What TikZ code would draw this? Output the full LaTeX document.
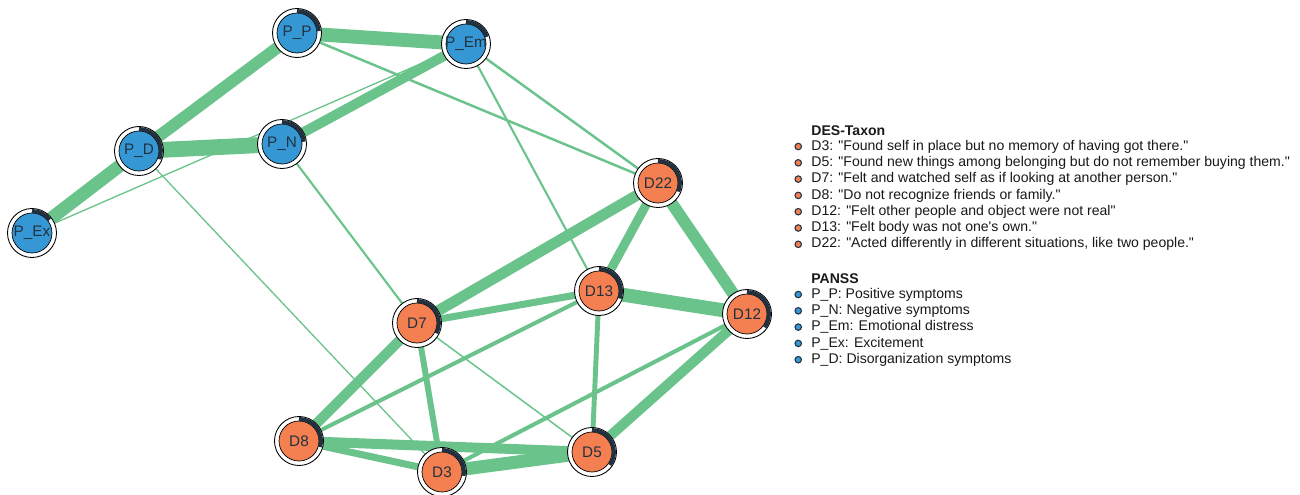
\documentclass[tikz,border=0pt]{standalone}
\usepackage{fontspec}
\setmainfont{Liberation Sans}
\usepackage{tikz}
\usetikzlibrary{positioning}

\definecolor{desorange}{HTML}{F47F51}
\definecolor{panssblue}{HTML}{3598D5}
\definecolor{linkgreen}{HTML}{69C38B}
\definecolor{pieslate}{HTML}{22313F}

\pgfdeclarelayer{back}
\pgfsetlayers{back,main}

\tikzstyle{item} = [circle, draw=black, line width=0.5pt, fill=white, minimum size=0.98cm, inner sep=0pt, font=\fontsize{8.7}{10}\selectfont, text=pieslate]
\tikzstyle{des} = [item, path picture={
  \fill[desorange, draw=black, line width=0.4pt] (path picture bounding box.center) circle (0.40cm);}]
\tikzstyle{panss} = [item, path picture={
  \fill[panssblue, draw=black, line width=0.4pt] (path picture bounding box.center) circle (0.40cm);}]
\tikzstyle{pie} = [draw=pieslate, line width=2.2pt]
\tikzstyle{link} = [draw=linkgreen, line cap=butt]
\tikzstyle{keytext} = [anchor=west, inner sep=0pt, font=\fontsize{8}{9}\selectfont, text=black!90]
\tikzstyle{keyhead} = [keytext, font=\fontsize{8}{9}\selectfont\bfseries]
\tikzstyle{keydot} = [circle, draw=pieslate, line width=0.6pt, minimum size=0.13cm, inner sep=0pt]

\newcommand{\dq}{\textquotedbl}

\begin{document}
\begin{tikzpicture}[x=0.02cm, y=-0.02cm]
\useasboundingbox (0,0) rectangle (1300,494);

% PANSS items
\node (pp) [panss] at (297,33) {P\_P};
\node (pem) [panss] at (466,44) {P\_Em};
\node (pd) [panss] at (139,151) {P\_D};
\node (pn) [panss] at (282,144) {P\_N};
\node (pex) [panss] at (32,233) {P\_Ex};

% DES-Taxon items
\node (d22) [des] at (658,183) {D22};
\node (d13) [des] at (599,291) {D13};
\node (d12) [des] at (747,314) {D12};
\node (d7) [des] at (417,323) {D7};
\node (d8) [des] at (299,441) {D8};
\node (d3) [des] at (442,472) {D3};
\node (d5) [des] at (592,452) {D5};

% pie rings
\foreach \n/\a in {pp/85, pem/71, pd/112, pn/84, pex/53, d22/113, d13/110, d12/127, d7/118, d8/106, d3/100, d5/126}
  \draw [pie] ([yshift=0.44cm]\n.center) arc[start angle=90, delta angle=-\a, radius=0.44cm];

\begin{pgfonlayer}{back}
\draw [link, line width=9pt] (pd.center) -- (pn.center);
\draw [link, line width=7.9pt] (pp.center) -- (pem.center);
\draw [link, line width=7.4pt] (pd.center) -- (pex.center);
\draw [link, line width=6.8pt] (pp.center) -- (pd.center);
\draw [link, line width=5.7pt] (pn.center) -- (pem.center);
\draw [link, line width=1.4pt] (pp.center) -- (d22.center);
\draw [link, line width=1.4pt] (pem.center) -- (d22.center);
\draw [link, line width=1.2pt] (pem.center) -- (d13.center);
\draw [link, line width=1.2pt] (pn.center) -- (d7.center);
\draw [link, line width=0.75pt] (pex.center) -- (pem.center);
\draw [link, line width=0.75pt] (pd.center) -- (d3.center);

\draw [link, line width=7.9pt] (d13.center) -- (d12.center);
\draw [link, line width=7.4pt] (d3.center) -- (d5.center);
\draw [link, line width=6.8pt] (d22.center) -- (d12.center);
\draw [link, line width=6.2pt] (d22.center) -- (d7.center);
\draw [link, line width=5.7pt] (d8.center) -- (d5.center);
\draw [link, line width=5.7pt] (d7.center) -- (d8.center);
\draw [link, line width=5.7pt] (d12.center) -- (d5.center);
\draw [link, line width=5.1pt] (d22.center) -- (d13.center);
\draw [link, line width=4pt] (d13.center) -- (d7.center);
\draw [link, line width=4pt] (d8.center) -- (d3.center);
\draw [link, line width=3.4pt] (d7.center) -- (d3.center);
\draw [link, line width=2.8pt] (d13.center) -- (d5.center);
\draw [link, line width=2.3pt] (d13.center) -- (d8.center);
\draw [link, line width=2.3pt] (d12.center) -- (d3.center);
\draw [link, line width=0.85pt] (d7.center) -- (d5.center);
\end{pgfonlayer}

% legend
\node (desHead) [keyhead] at (811,131) {DES-Taxon};
\node (keyD3) [keytext] at (811,146.5) {D3: \dq Found self in place but no memory of having got there.\dq};
\node (keyD5) [keytext] at (811,162.8) {D5: \dq Found new things among belonging but do not remember buying them.\dq};
\node (keyD7) [keytext] at (811,179.1) {D7: \dq Felt and watched self as if looking at another person.\dq};
\node (keyD8) [keytext] at (811,195.4) {D8: \dq Do not recognize friends or family.\dq};
\node (keyD12) [keytext] at (811,211.7) {D12: \dq Felt other people and object were not real\dq};
\node (keyD13) [keytext] at (811,228) {D13: \dq Felt body was not one\textquotesingle s own.\dq};
\node (keyD22) [keytext] at (811,244.3) {D22: \dq Acted differently in different situations, like two people.\dq};

\node (panssHead) [keyhead] at (811,278.5) {PANSS};
\node (keyPP) [keytext] at (811,294.5) {P\_P: Positive symptoms};
\node (keyPN) [keytext] at (811,310.8) {P\_N: Negative symptoms};
\node (keyPEm) [keytext] at (811,327.1) {P\_Em: Emotional distress};
\node (keyPEx) [keytext] at (811,343.4) {P\_Ex: Excitement};
\node (keyPD) [keytext] at (811,359.7) {P\_D: Disorganization symptoms};

\node (dotD3) [keydot, fill=desorange, left=0.18cm of keyD3] {};
\node (dotD5) [keydot, fill=desorange, left=0.18cm of keyD5] {};
\node (dotD7) [keydot, fill=desorange, left=0.18cm of keyD7] {};
\node (dotD8) [keydot, fill=desorange, left=0.18cm of keyD8] {};
\node (dotD12) [keydot, fill=desorange, left=0.18cm of keyD12] {};
\node (dotD13) [keydot, fill=desorange, left=0.18cm of keyD13] {};
\node (dotD22) [keydot, fill=desorange, left=0.18cm of keyD22] {};
\node (dotPP) [keydot, fill=panssblue, left=0.18cm of keyPP] {};
\node (dotPN) [keydot, fill=panssblue, left=0.18cm of keyPN] {};
\node (dotPEm) [keydot, fill=panssblue, left=0.18cm of keyPEm] {};
\node (dotPEx) [keydot, fill=panssblue, left=0.18cm of keyPEx] {};
\node (dotPD) [keydot, fill=panssblue, left=0.18cm of keyPD] {};

\end{tikzpicture}
\end{document}
